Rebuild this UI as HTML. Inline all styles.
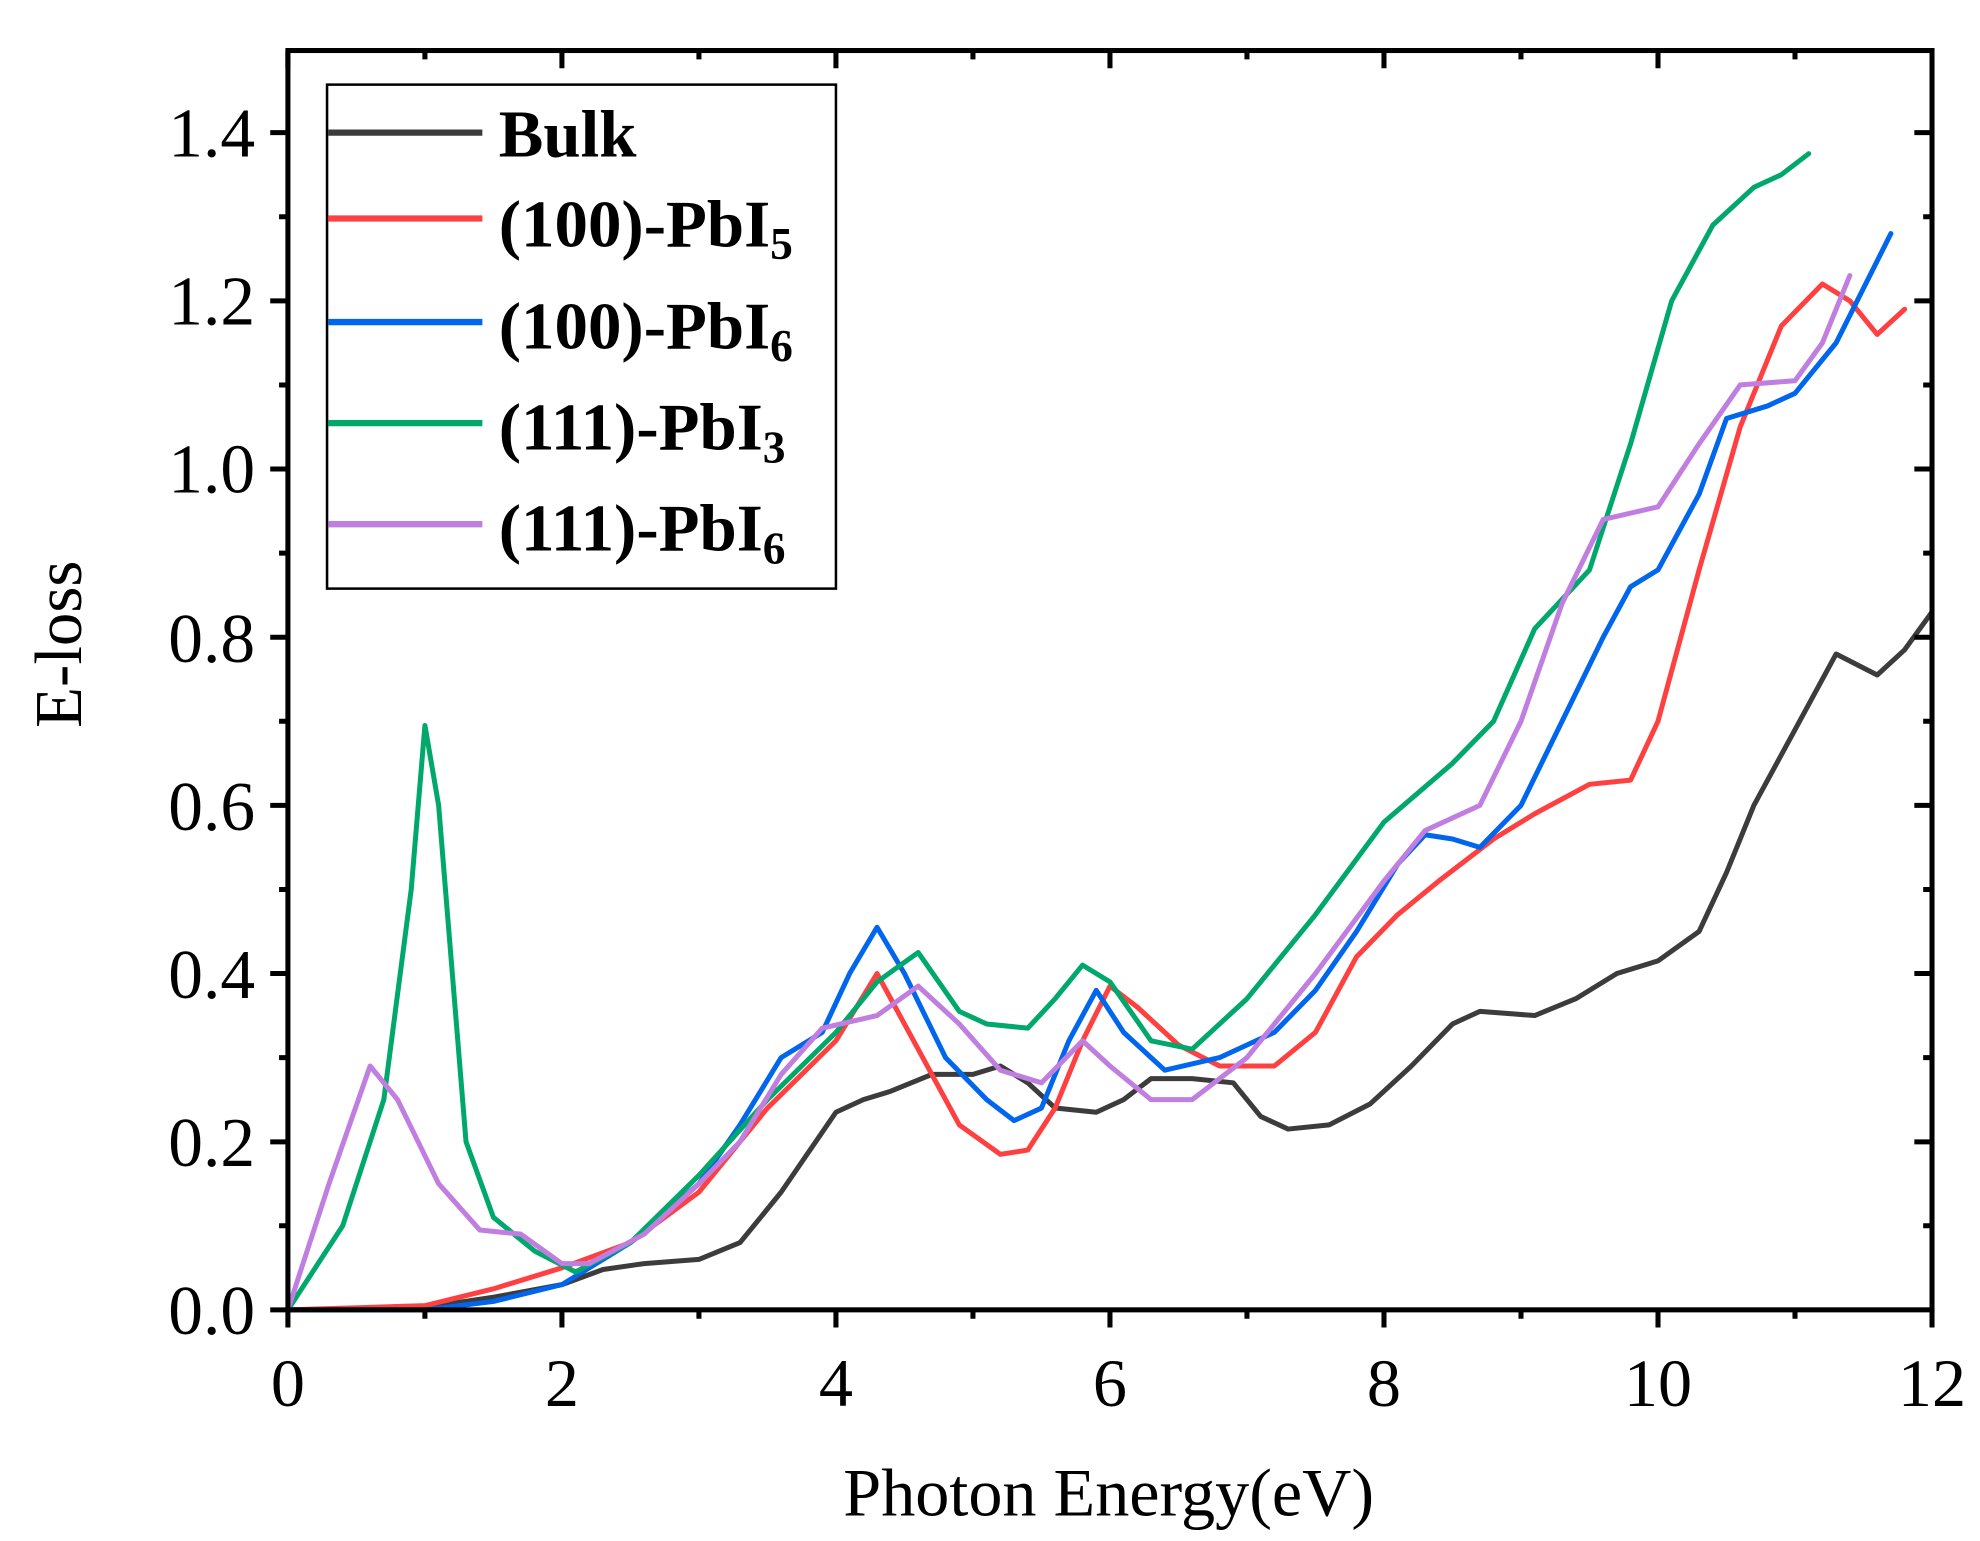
<!DOCTYPE html>
<html><head><meta charset="utf-8"><style>html,body{margin:0;padding:0;background:#fff}svg{display:block}</style></head>
<body>
<svg width="1980" height="1541" viewBox="0 0 1568 1220" preserveAspectRatio="none" xmlns="http://www.w3.org/2000/svg" font-family="'Liberation Serif', serif">
<rect width="1568" height="1220" fill="#fff"/>
<g transform="translate(228,1037) scale(108.5,-665.7)" fill="none" stroke-width="5" stroke-linejoin="round" stroke-linecap="round">
<polyline vector-effect="non-scaling-stroke" stroke="#3c3c3c" points="0,0 1,0.003 1.5,0.015 2,0.03 2.3,0.048 2.6,0.055 3,0.06 3.3,0.08 3.6,0.14 4,0.235 4.2,0.25 4.4,0.26 4.7,0.28 5,0.28 5.2,0.29 5.4,0.27 5.6,0.24 5.9,0.235 6.1,0.25 6.3,0.275 6.6,0.275 6.9,0.27 7.1,0.23 7.3,0.215 7.6,0.22 7.9,0.245 8.2,0.29 8.5,0.34 8.7,0.355 9.1,0.35 9.4,0.37 9.7,0.4 10,0.415 10.3,0.45 10.5,0.52 10.7,0.6 11,0.69 11.3,0.78 11.6,0.755 11.8,0.785 12,0.83"/>
<polyline vector-effect="non-scaling-stroke" stroke="#ff4040" points="0,0 1,0.005 1.5,0.025 2,0.05 2.5,0.08 3,0.14 3.5,0.24 4,0.32 4.3,0.4 4.6,0.31 4.9,0.22 5.2,0.185 5.4,0.19 5.6,0.24 5.8,0.32 6,0.385 6.2,0.36 6.5,0.315 6.8,0.29 7.2,0.29 7.5,0.33 7.8,0.42 8.1,0.47 8.4,0.51 8.8,0.56 9.1,0.59 9.5,0.625 9.8,0.63 10,0.7 10.3,0.88 10.6,1.05 10.9,1.17 11.2,1.22 11.4,1.2 11.6,1.16 11.8,1.19"/>
<polyline vector-effect="non-scaling-stroke" stroke="#0066ee" points="0,0 1,0 1.5,0.01 2,0.03 2.5,0.08 3,0.15 3.3,0.22 3.6,0.3 3.9,0.33 4.1,0.4 4.3,0.455 4.5,0.4 4.8,0.3 5.1,0.25 5.3,0.225 5.5,0.24 5.7,0.32 5.9,0.38 6.1,0.33 6.4,0.285 6.8,0.3 7.2,0.33 7.5,0.38 7.8,0.45 8.1,0.53 8.3,0.565 8.5,0.56 8.7,0.55 9,0.6 9.3,0.7 9.6,0.8 9.8,0.86 10,0.88 10.3,0.97 10.5,1.06 10.8,1.075 11,1.09 11.3,1.15 11.7,1.28"/>
<polyline vector-effect="non-scaling-stroke" stroke="#00a86b" points="0,0 0.4,0.1 0.7,0.25 0.9,0.5 1,0.695 1.1,0.6 1.3,0.2 1.5,0.11 1.8,0.07 2.1,0.045 2.5,0.08 3,0.16 3.5,0.25 4,0.33 4.3,0.39 4.6,0.425 4.9,0.355 5.1,0.34 5.4,0.335 5.6,0.37 5.8,0.41 6,0.39 6.3,0.32 6.6,0.31 7,0.37 7.5,0.47 8,0.58 8.5,0.65 8.8,0.7 9.1,0.81 9.5,0.88 9.8,1.03 10.1,1.2 10.4,1.29 10.7,1.335 10.9,1.35 11.1,1.375"/>
<polyline vector-effect="non-scaling-stroke" stroke="#c07ee0" points="0,0 0.3,0.15 0.6,0.29 0.8,0.25 1.1,0.15 1.4,0.095 1.7,0.09 2,0.055 2.2,0.055 2.6,0.09 3,0.15 3.3,0.2 3.6,0.28 3.9,0.335 4.3,0.35 4.6,0.385 4.9,0.34 5.2,0.285 5.5,0.27 5.8,0.32 6,0.29 6.3,0.25 6.6,0.25 7,0.3 7.5,0.4 8,0.51 8.3,0.57 8.7,0.6 9,0.7 9.3,0.84 9.6,0.94 10,0.955 10.3,1.03 10.6,1.1 11,1.105 11.2,1.15 11.4,1.23"/>
</g>
<g stroke="#000" stroke-width="4" fill="none">
<rect x="228" y="40" width="1302" height="997"/>
<path d="M228,1037v14 M445,1037v14 M662,1037v14 M879,1037v14 M1096,1037v14 M1313,1037v14 M1530,1037v14
M336.5,1037v7 M553.5,1037v7 M770.5,1037v7 M987.5,1037v7 M1204.5,1037v7 M1421.5,1037v7
M228,40v14 M445,40v14 M662,40v14 M879,40v14 M1096,40v14 M1313,40v14 M336.5,40v7 M553.5,40v7 M770.5,40v7 M987.5,40v7 M1204.5,40v7 M1421.5,40v7
M214,1037h14 M214,904h14 M214,770.7h14 M214,637.6h14 M214,504.5h14 M214,371.3h14 M214,238.2h14 M214,105h14
M221,970.4h7 M221,837.3h7 M221,704.2h7 M221,571h7 M221,437.9h7 M221,304.8h7 M221,171.6h7
M1516,904h14 M1516,770.7h14 M1516,637.6h14 M1516,504.5h14 M1516,371.3h14 M1516,238.2h14 M1516,105h14
M1523,970.4h7 M1523,837.3h7 M1523,704.2h7 M1523,571h7 M1523,437.9h7 M1523,304.8h7 M1523,171.6h7"/>
</g>
<g font-size="54" fill="#000" text-anchor="middle">
<text x="228" y="1113">0</text><text x="445" y="1113">2</text><text x="662" y="1113">4</text><text x="879" y="1113">6</text><text x="1096" y="1113">8</text><text x="1313" y="1113">10</text><text x="1530" y="1113">12</text>
</g>
<g font-size="55" fill="#000" text-anchor="end">
<text x="202" y="1056">0.0</text><text x="202" y="923">0.2</text><text x="202" y="790">0.4</text><text x="202" y="657">0.6</text><text x="202" y="524">0.8</text><text x="202" y="390">1.0</text><text x="202" y="257">1.2</text><text x="202" y="124">1.4</text>
</g>
<text x="878" y="1200" font-size="54" text-anchor="middle">Photon Energy(eV)</text>
<text transform="translate(64,510) rotate(-90)" font-size="53" text-anchor="middle">E-loss</text>
<rect x="259" y="67" width="403" height="399" fill="#fff" stroke="#000" stroke-width="2"/>
<g stroke-width="5">
<line x1="260" y1="105" x2="382" y2="105" stroke="#3c3c3c"/>
<line x1="260" y1="173" x2="382" y2="173" stroke="#ff4040"/>
<line x1="260" y1="255" x2="382" y2="255" stroke="#0066ee"/>
<line x1="260" y1="335" x2="382" y2="335" stroke="#00a86b"/>
<line x1="260" y1="415" x2="382" y2="415" stroke="#c07ee0"/>
</g>
<g font-size="53" font-weight="bold" fill="#000">
<text x="395" y="124">Bulk</text>
<text x="395" y="195">(100)-PbI<tspan font-size="36" dy="10">5</tspan></text>
<text x="395" y="276">(100)-PbI<tspan font-size="36" dy="10">6</tspan></text>
<text x="395" y="356">(111)-PbI<tspan font-size="36" dy="10">3</tspan></text>
<text x="395" y="436">(111)-PbI<tspan font-size="36" dy="10">6</tspan></text>
</g>
</svg>
</body></html>
